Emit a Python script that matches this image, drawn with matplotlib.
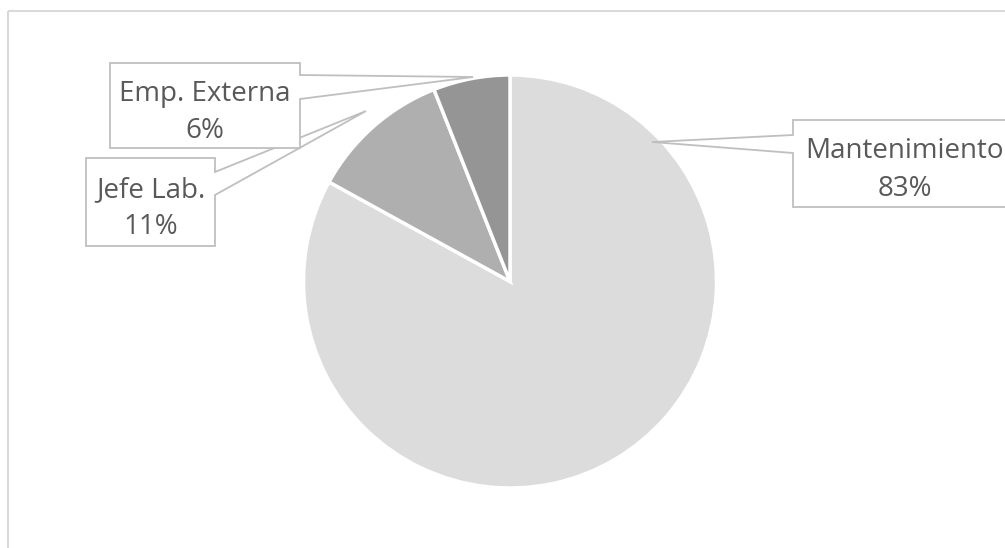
import matplotlib
matplotlib.use("Agg")
import matplotlib.pyplot as plt
from matplotlib.patches import Polygon

# === Data ===
labels = ["Mantenimiento", "Jefe Lab.", "Emp. Externa"]
pcts = [83, 11, 6]
colors = ["#dcdcdc", "#afafaf", "#959595"]

W, H = 1005, 548
fig = plt.figure(figsize=(W / 100, H / 100), dpi=100)
ax = fig.add_axes([0, 0, 1, 1])

# pie (pixel coords, y up)
cx, cy, r = 510, H - 281.5, 206.5
ax.pie(pcts, colors=colors, startangle=90, counterclock=False,
       center=(cx, cy), radius=r,
       wedgeprops=dict(edgecolor="white", linewidth=2.5))

ax.set_xlim(0, W)
ax.set_ylim(0, H)
ax.set_aspect("auto")
ax.axis("off")

# chart frame
ax.plot([7.5, W], [H - 11, H - 11], color="#d9d9d9", lw=1.5, solid_capstyle="butt")
ax.plot([7.5, 7.5], [0, H - 11], color="#d9d9d9", lw=1.5, solid_capstyle="butt")

# === Callout boxes (pixel layout, y down) ===
# box: left, top, right, bottom, side, pointer y1, y2, tip
callouts = {
    "Jefe Lab.": (86, 158, 215, 246, "right", 172, 195, (366, 111)),
    "Emp. Externa": (110, 63, 300, 148, "right", 75, 99, (473, 77)),
    "Mantenimiento": (793, 120, 1017, 207, "left", 135, 153, (652, 142)),
}
edge = "#bfbfbf"
txt = "#595959"
for i, name in enumerate(["Jefe Lab.", "Emp. Externa", "Mantenimiento"]):
    L, T, R, B, side, p1, p2, tip = callouts[name]
    if side == "right":
        pts = [(L, T), (R, T), (R, p1), tip, (R, p2), (R, B), (L, B)]
    else:
        pts = [(L, T), (R, T), (R, B), (L, B), (L, p2), tip, (L, p1)]
    pts = [(x, H - y) for x, y in pts]
    ax.add_patch(Polygon(pts, closed=True, facecolor="white", edgecolor=edge,
                         lw=1.3, zorder=5 + i, clip_on=False))
    k = labels.index(name)
    xc = (L + R) / 2
    ymid = (T + B) / 2
    ax.text(xc, H - (ymid - 5), name, ha="center", va="baseline",
            fontsize=20, color=txt, family="Open Sans", zorder=10)
    ax.text(xc, H - (ymid + 32), f"{pcts[k]}%", ha="center", va="baseline",
            fontsize=20, color=txt, family="Open Sans", zorder=10)

fig.savefig("out.png", dpi=100)
